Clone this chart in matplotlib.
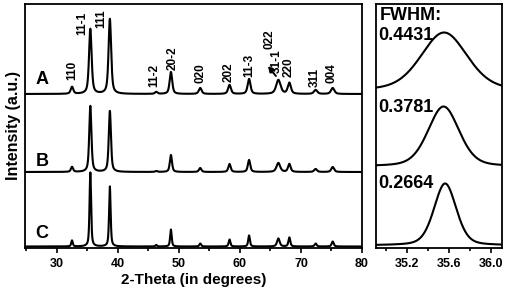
import numpy as np
import matplotlib
matplotlib.use('Agg')
import matplotlib.pyplot as plt
from matplotlib.ticker import MultipleLocator

plt.rcParams['font.family'] = ['Liberation Sans', 'DejaVu Sans']
plt.rcParams['font.weight'] = 'bold'

# ---------------- data ----------------
samples = ['A', 'B', 'C']
hkl_labels = ['110', '11-1', '111', '11-2', '20-2', '020', '202', '11-3',
              '022', '31-1', '220', '311', '004']
peak_pos = [32.5, 35.5, 38.7, 46.3, 48.7, 53.5, 58.3, 61.5, 66.3, 68.1, 72.4, 75.2]
width_factor = [1.0, 1.0, 1.0, 1.0, 1.0, 1.1, 1.1, 1.1, 1.7, 1.2, 1.3, 1.3]
heights_A = [7, 65, 75, 2, 22, 6, 9, 15, 14, 11, 4, 6]
heights_B = [5, 66, 61, 1, 17, 4, 8, 12, 9, 8, 3, 5]
heights_C = [6, 74, 60, 1.5, 17, 3, 7, 11, 8, 9, 3, 5]
fwhm_main = [0.5, 0.42, 0.3]
offsets_main = [154, 76, 1.5]

fwhm_labels = ['0.4431', '0.3781', '0.2664']
zoom_center = [35.55, 35.545, 35.56]
zoom_fwhm = [0.52, 0.35, 0.25]
zoom_height = [58, 60, 62]
zoom_base = [157.5, 81.5, 2.5]

xticks_main = [30, 40, 50, 60, 70, 80]
xticks_zoom = [35.2, 35.6, 36.0]


def pvoigt(x, x0, fwhm, eta=0.5):
    g = np.exp(-4 * np.log(2) * ((x - x0) / fwhm) ** 2)
    lor = 1.0 / (1.0 + (2 * (x - x0) / fwhm) ** 2)
    return eta * lor + (1 - eta) * g


# ---------------- figure ----------------
W, H = 509, 294
fig = plt.figure(figsize=(W / 100, H / 100), dpi=100)
ax = fig.add_axes([25 / W, 46 / H, 337 / W, 244 / H])
ax2 = fig.add_axes([376 / W, 46 / H, 125.7 / W, 244 / H])

x = np.linspace(24.8, 80, 12000)
for heights, fw, off in zip([heights_A, heights_B, heights_C], fwhm_main, offsets_main):
    y = np.zeros_like(x)
    for p, h, wf in zip(peak_pos, heights, width_factor):
        y += h * pvoigt(x, p, fw * wf, 0.6)
    ax.plot(x, y + off, color='black', lw=1.5)

ax.set_xlim(24.8, 80)
ax.set_ylim(0, 244)
ax.set_yticks([])
ax.set_xticks(xticks_main)
ax.xaxis.set_minor_locator(MultipleLocator(5))
ax.tick_params(axis='x', which='major', direction='out', length=3.5, width=1.2,
               labelsize=9, pad=4)
ax.tick_params(axis='x', which='minor', direction='out', length=2.5, width=1.2)
for s in ax.spines.values():
    s.set_linewidth(1.3)

# sample letters
for name, yy in zip(samples, [169, 87, 14]):
    ax.text(27.6, yy, name, fontsize=13, fontweight='bold', ha='center', va='center')

# hkl labels
lab_x = [32.46, 34.1, 37.33, 45.9, 49.0, 53.6, 58.2, 61.5, 64.8, 66.05, 68.05, 72.3, 75.0]
lab_y = [168, 213, 220, 161, 178, 165, 166, 171, 199, 175, 171, 161, 165]
for t, lx, ly in zip(hkl_labels, lab_x, lab_y):
    ax.text(lx, ly, t, rotation=90, fontsize=8.5, fontweight='bold',
            ha='center', va='bottom')
ax.annotate('', xy=(64.6, 182), xytext=(65.9, 172),
            arrowprops=dict(arrowstyle='-|>', lw=1.4, color='black',
                            mutation_scale=8, shrinkA=0, shrinkB=0))

ax.set_xlabel('2-Theta (in degrees)', fontsize=11, fontweight='bold', labelpad=2)
fig.text(14 / W, 1 - 126 / H, 'Intensity (a.u.)', rotation=90, fontsize=11.5,
         fontweight='bold', ha='center', va='center')

# right panel
xz = np.linspace(34.9, 36.1, 1000)
for c, fw, h, b in zip(zoom_center, zoom_fwhm, zoom_height, zoom_base):
    ax2.plot(xz, b + h * pvoigt(xz, c, fw, 0.3), color='black', lw=1.5)
ax2.set_xlim(34.9, 36.1)
ax2.set_ylim(0, 244)
ax2.set_yticks([])
ax2.set_xticks(xticks_zoom)
ax2.set_xticklabels(['35.2', '35.6', '36.0'])
ax2.xaxis.set_minor_locator(MultipleLocator(0.2))
ax2.tick_params(axis='x', which='major', direction='out', length=3.5, width=1.2,
                labelsize=9, pad=4)
ax2.tick_params(axis='x', which='minor', direction='out', length=2.5, width=1.2)
for s in ax2.spines.values():
    s.set_linewidth(1.3)

ax2.text(34.94, 233, 'FWHM:', fontsize=13, fontweight='bold', ha='left', va='center')
for t, yy in zip(fwhm_labels, [212, 141, 65]):
    ax2.text(34.92, yy, t, fontsize=13, fontweight='bold', ha='left', va='center')

fig.savefig('out.png', dpi=100)
